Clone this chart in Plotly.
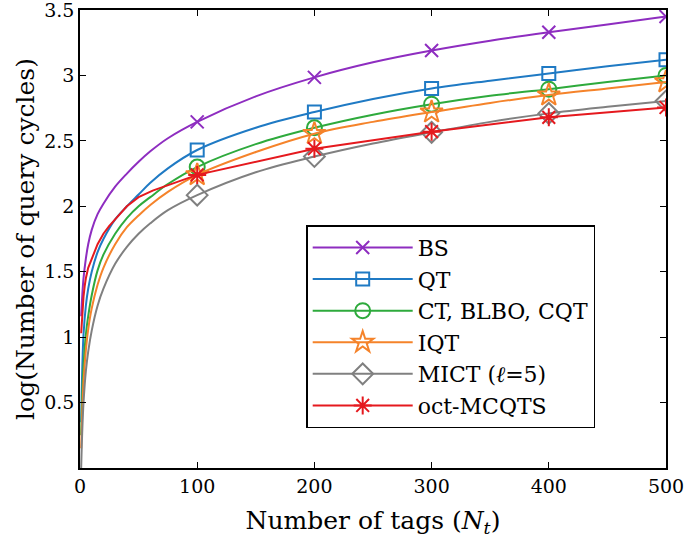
import plotly.graph_objects as go

# Sample points along the curves (Number of tags)
n_curve = [1, 2, 3, 5, 7, 10, 15, 20, 30, 40, 50, 60, 75, 100, 150, 200, 250, 300, 350, 400, 450, 500]
bs_curve = [1.16, 1.33, 1.45, 1.60, 1.71, 1.82, 1.94, 2.02, 2.15, 2.25, 2.34, 2.42, 2.52, 2.645, 2.84, 2.985, 3.10, 3.19, 3.265, 3.33, 3.39, 3.45]
qt_curve = [0.35, 0.78, 1.02, 1.24, 1.37, 1.50, 1.65, 1.75, 1.90, 2.00, 2.09, 2.18, 2.29, 2.43, 2.60, 2.72, 2.82, 2.90, 2.96, 3.015, 3.07, 3.12]
ct_curve = [0.25, 0.58, 0.78, 1.02, 1.16, 1.32, 1.51, 1.63, 1.79, 1.91, 2.00, 2.07, 2.17, 2.30, 2.475, 2.60, 2.70, 2.78, 2.845, 2.895, 2.95, 3.00]
iqt_curve = [0.15, 0.45, 0.66, 0.90, 1.06, 1.22, 1.40, 1.53, 1.71, 1.84, 1.93, 2.01, 2.11, 2.24, 2.415, 2.555, 2.645, 2.72, 2.79, 2.85, 2.90, 2.95]
mict_curve = [0.0, 0.30, 0.50, 0.74, 0.89, 1.05, 1.24, 1.37, 1.56, 1.69, 1.79, 1.87, 1.97, 2.085, 2.26, 2.38, 2.48, 2.565, 2.645, 2.71, 2.76, 2.805]

n_oct = [1, 2, 3, 4, 5, 7, 10, 15, 20, 25, 30, 40, 50, 62, 100, 200, 300, 400, 500]
oct_curve = [1.03, 1.20, 1.31, 1.39, 1.45, 1.53, 1.60, 1.71, 1.79, 1.85, 1.90, 2.00, 2.07, 2.12, 2.24, 2.44, 2.57, 2.68, 2.755]

# Marker points
n_mark = [100, 200, 300, 400, 500]
bs_mark = [2.645, 2.985, 3.19, 3.33, 3.45]
qt_mark = [2.43, 2.72, 2.90, 3.015, 3.12]
ct_mark = [2.30, 2.60, 2.78, 2.895, 3.00]
iqt_mark = [2.24, 2.555, 2.72, 2.85, 2.95]
mict_mark = [2.085, 2.38, 2.565, 2.71, 2.805]
oct_mark = [2.24, 2.44, 2.57, 2.68, 2.755]

x_ticks = [0, 100, 200, 300, 400, 500]
y_ticks = [0.5, 1, 1.5, 2, 2.5, 3, 3.5]
y_tick_text = ["0.5", "1", "1.5", "2", "2.5", "3", "3.5"]

series = [
    ("BS", n_curve, bs_curve, bs_mark, "#8E2DC0", "x-thin", 13, "spline"),
    ("QT", n_curve, qt_curve, qt_mark, "#1F7AC4", "square-open", 13, "spline"),
    ("CT, BLBO, CQT", n_curve, ct_curve, ct_mark, "#2EAA3C", "circle-open", 15, "spline"),
    ("IQT", n_curve, iqt_curve, iqt_mark, "#F5832A", "star-open", 17, "spline"),
    ("MICT (<i>ℓ</i>=5)", n_curve, mict_curve, mict_mark, "#808080", "diamond-open", 16, "spline"),
    ("oct-MCQTS", n_oct, oct_curve, oct_mark, "#E5191E", "asterisk-open", 15, "linear"),
]

FONT = "DejaVu Serif"
fig = go.Figure()
for i, (name, xs, ys, ym, color, sym, size, shape) in enumerate(series):
    fig.add_trace(go.Scatter(x=xs, y=ys, mode="lines", line=dict(color=color, width=2, shape=shape),
                             showlegend=False, hoverinfo="skip"))
    fig.add_trace(go.Scatter(x=n_mark, y=ym, mode="markers",
                             marker=dict(symbol=sym, size=size, color=color, line=dict(color=color, width=2)),
                             showlegend=False))
for i, (name, xs, ys, ym, color, sym, size, shape) in enumerate(series):
    fig.add_trace(go.Scatter(x=[None], y=[None], mode="lines+markers", name=name, legendgroup=f"g{i}",
                             line=dict(color=color, width=2),
                             marker=dict(symbol=sym, size=size, color=color, line=dict(color=color, width=2))))

axis_common = dict(showline=True, linecolor="black", linewidth=1.5, mirror="ticks", ticks="inside",
                   ticklen=6, tickwidth=1.3, tickcolor="black", showgrid=False, zeroline=False,
                   automargin=False, ticklabeloverflow="allow",
                   tickfont=dict(family=FONT, size=19, color="black"))
fig.update_layout(
    width=685, height=538,
    margin=dict(l=80, r=19, t=10, b=70),
    paper_bgcolor="white", plot_bgcolor="white",
    font=dict(family=FONT, color="black"),
    xaxis=dict(range=[0, 500], tickvals=x_ticks, title=dict(text="Number of tags (<i>N<sub>t</sub></i>)",
               font=dict(family=FONT, size=25), standoff=16), **axis_common),
    yaxis=dict(range=[0, 3.5], tickvals=y_ticks, ticktext=y_tick_text,
               title=dict(text="log(Number of query cycles)", font=dict(family=FONT, size=25), standoff=2),
               **axis_common),
    legend=dict(x=0.386, y=0.087, xanchor="left", yanchor="bottom", bgcolor="white",
                bordercolor="black", borderwidth=1.5, font=dict(family=FONT, size=22, color="black"),
                tracegroupgap=0, itemwidth=100, entrywidth=260, entrywidthmode="pixels"),
)
fig.write_html("out.html", config={"displayModeBar": False},
               post_script="document.body.style.margin='0px';document.body.style.overflow='hidden';")
